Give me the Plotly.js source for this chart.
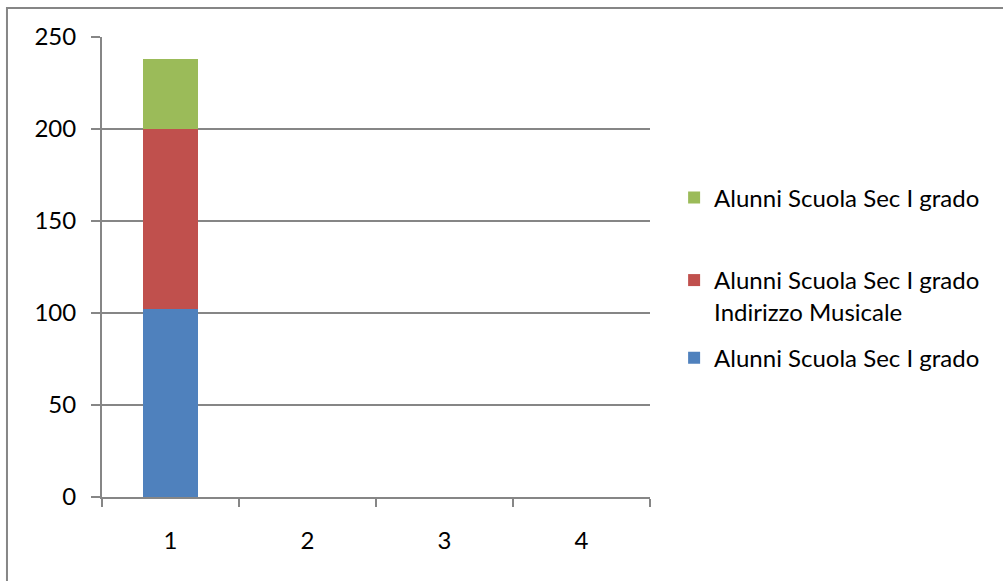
<!DOCTYPE html>
<html>
<head>
<meta charset="utf-8">
<script src="https://cdn.plot.ly/plotly-3.0.1.min.js"></script>
<style>html,body{margin:0;padding:0;background:#fff;}#chart{width:1003px;height:581px;}</style>
</head>
<body>
<div id="chart"></div>
<script>
const categories = ["1", "2", "3", "4"];
const seriesNames = [
  "Alunni Scuola Sec I grado",
  "Alunni Scuola Sec I grado<br>Indirizzo Musicale",
  "Alunni Scuola Sec I grado"
];
const seriesBlue = [102, 0, 0, 0];
const seriesRed = [98, 0, 0, 0];
const seriesGreen = [38, 0, 0, 0];
const yTicks = [0, 50, 100, 150, 200, 250];

const gray = "#868686";
const font = {family: "Lato, 'Open Sans', sans-serif", size: 24, color: "#000"};

const traces = [
  {type: "bar", x: categories, y: seriesBlue, name: seriesNames[0], marker: {color: "#4F81BD"}, width: 0.4, legend: "legend3", hoverinfo: "y"},
  {type: "bar", x: categories, y: seriesRed, name: seriesNames[1], marker: {color: "#C0504D"}, width: 0.4, legend: "legend2", hoverinfo: "y"},
  {type: "bar", x: categories, y: seriesGreen, name: seriesNames[2], marker: {color: "#9BBB59"}, width: 0.4, legend: "legend", hoverinfo: "y"}
];

const legBase = {x: 1.044, xanchor: "left", yanchor: "middle", font: font, bgcolor: "rgba(0,0,0,0)", valign: "top", itemwidth: 30};

const layout = {
  width: 1003, height: 581,
  margin: {l: 102, r: 353, t: 37, b: 84},
  paper_bgcolor: "#fff", plot_bgcolor: "#fff",
  font: font,
  barmode: "stack",
  showlegend: true,
  legend: Object.assign({}, legBase, {y: 0.65}),
  legend2: Object.assign({}, legBase, {y: 0.437}),
  legend3: Object.assign({}, legBase, {y: 0.302}),
  xaxis: {
    type: "category", tickson: "boundaries", ticks: "outside", ticklen: 8, tickwidth: 2, tickcolor: gray,
    showgrid: false, showline: true, linecolor: gray, linewidth: 2, ticklabelstandoff: 21,
    tickfont: font, fixedrange: true
  },
  yaxis: {
    range: [0, 250], tickvals: yTicks, ticks: "outside", ticklen: 9, tickwidth: 2, tickcolor: gray,
    showgrid: true, gridcolor: gray, gridwidth: 2, showline: true, linecolor: gray, linewidth: 2,
    zeroline: false, ticklabelstandoff: 10, tickfont: font, fixedrange: true
  },
  shapes: [{
    type: "rect", xref: "paper", yref: "paper",
    x0: -0.1734, x1: 1.66, y0: -0.21, y1: 1.063,
    line: {color: gray, width: 2}, fillcolor: "rgba(0,0,0,0)", layer: "below"
  }]
};

Plotly.newPlot("chart", traces, layout, {displayModeBar: false, staticPlot: true});
</script>
</body>
</html>
